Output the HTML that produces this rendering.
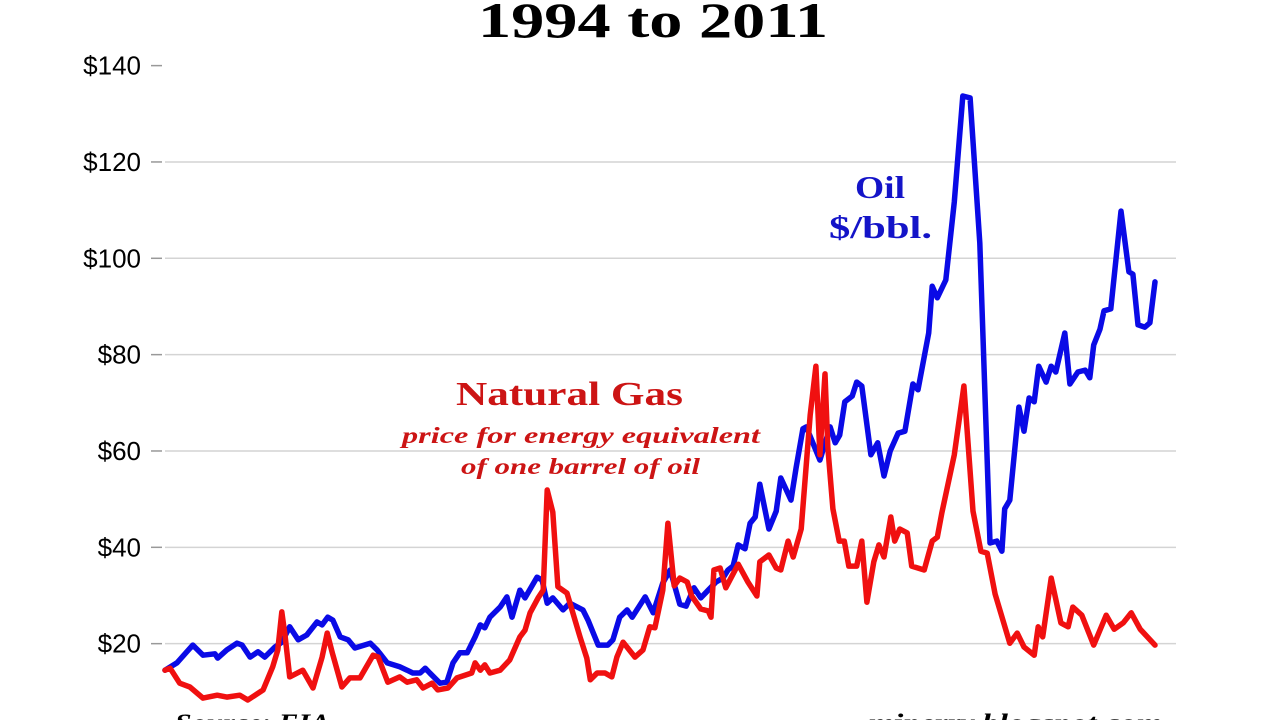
<!DOCTYPE html>
<html><head><meta charset="utf-8"><style>
html,body{margin:0;padding:0;background:#fff;}
svg{display:block;}
</style></head><body>
<svg id="chart" width="1280" height="720" viewBox="0 0 1280 720" xmlns="http://www.w3.org/2000/svg">
<rect width="1280" height="720" fill="#fff"/>
<text x="478" y="37" textLength="350" lengthAdjust="spacingAndGlyphs" font-family="Liberation Serif, serif" font-weight="bold" font-size="50">1994 to 2011</text>
<g id="grid"></g>
<g id="yaxis"></g>
<g id="series"></g>
<text x="855" y="198" textLength="50" lengthAdjust="spacingAndGlyphs" font-family="Liberation Serif, serif" font-weight="bold" font-size="32" fill="#1414c8">Oil</text>
<text x="829" y="238" textLength="103" lengthAdjust="spacingAndGlyphs" font-family="Liberation Serif, serif" font-weight="bold" font-size="32" fill="#1414c8">$/bbl.</text>
<text x="456" y="405" textLength="227" lengthAdjust="spacingAndGlyphs" font-family="Liberation Serif, serif" font-weight="bold" font-size="34" fill="#cc1414">Natural Gas</text>
<text x="402" y="443" textLength="358" lengthAdjust="spacingAndGlyphs" font-family="Liberation Serif, serif" font-style="italic" font-weight="bold" font-size="23" fill="#cc1414">price for energy equivalent</text>
<text x="461" y="474" textLength="239" lengthAdjust="spacingAndGlyphs" font-family="Liberation Serif, serif" font-style="italic" font-weight="bold" font-size="23" fill="#cc1414">of one barrel of oil</text>
<text x="175" y="731" textLength="155" lengthAdjust="spacingAndGlyphs" font-family="Liberation Serif, serif" font-style="italic" font-weight="bold" font-size="25">Source: EIA</text>
<text x="868" y="731" textLength="294" lengthAdjust="spacingAndGlyphs" font-family="Liberation Serif, serif" font-style="italic" font-weight="bold" font-size="25">mjperry.blogspot.com</text>
</svg>
<script>
const yTicks = [20, 40, 60, 80, 100, 120, 140];
const yTickLabels = ["$20", "$40", "$60", "$80", "$100", "$120", "$140"];
const oilYears = [1994.00,1994.21,1994.49,1994.67,1994.88,1994.93,1995.09,1995.27,1995.36,1995.50,1995.64,1995.76,1995.94,1996.06,1996.20,1996.35,1996.50,1996.68,1996.77,1996.87,1996.96,1997.09,1997.23,1997.35,1997.62,1997.74,1997.92,1998.14,1998.27,1998.37,1998.50,1998.59,1998.67,1998.85,1998.97,1999.08,1999.20,1999.33,1999.47,1999.56,1999.64,1999.73,1999.91,2000.03,2000.12,2000.26,2000.35,2000.56,2000.65,2000.74,2000.84,2001.02,2001.14,2001.37,2001.46,2001.64,2001.81,2001.90,2002.02,2002.15,2002.24,2002.47,2002.61,2002.78,2002.91,2003.08,2003.19,2003.33,2003.45,2003.58,2003.72,2003.84,2003.93,2004.02,2004.11,2004.23,2004.32,2004.41,2004.49,2004.65,2004.78,2004.86,2005.04,2005.13,2005.25,2005.31,2005.55,2005.73,2005.82,2005.90,2005.99,2006.12,2006.20,2006.29,2006.45,2006.57,2006.68,2006.79,2006.93,2007.05,2007.19,2007.28,2007.47,2007.53,2007.62,2007.77,2007.92,2008.07,2008.20,2008.37,2008.55,2008.67,2008.76,2008.81,2008.90,2009.06,2009.15,2009.24,2009.33,2009.41,2009.54,2009.63,2009.71,2009.87,2009.96,2010.10,2010.23,2010.31,2010.38,2010.49,2010.56,2010.68,2010.86,2011.00,2011.07,2011.16,2011.28,2011.37,2011.46];
const oilPrices = [14.5,16.0,19.7,17.6,17.9,17.0,18.7,20.1,19.7,17.2,18.3,17.2,19.3,20.3,23.5,20.8,21.8,24.5,23.9,25.5,24.9,21.4,20.8,19.1,20.1,18.7,16.0,15.2,14.5,13.9,13.9,14.9,13.9,11.8,12.0,16.0,18.1,18.1,21.4,23.9,23.3,25.5,27.6,29.7,25.5,31.1,29.5,33.8,33.2,28.4,29.5,27.0,28.4,27.0,24.9,19.7,19.7,20.8,25.5,27.0,25.5,29.7,26.4,32.6,35.3,28.2,27.8,31.6,29.5,31.1,32.8,33.6,35.3,36.1,40.5,39.7,45.0,46.3,53.1,43.8,47.5,54.4,49.8,56.5,64.6,65.0,58.1,65.0,61.7,63.3,70.2,71.4,74.3,73.5,59.2,61.7,54.8,60.0,63.7,64.1,73.9,72.7,84.5,94.2,91.8,95.5,111.7,133.7,133.3,103.2,40.9,41.3,39.2,48.0,49.8,69.1,64.1,71.0,70.2,77.6,74.3,77.6,76.4,84.5,73.9,76.4,76.8,75.2,82.0,85.3,89.1,89.5,109.8,97.2,96.7,86.2,85.7,86.6,95.1];
const gasYears = [1994.00,1994.09,1994.26,1994.44,1994.67,1994.92,1995.09,1995.32,1995.46,1995.73,1995.90,1995.99,1996.06,1996.12,1996.20,1996.43,1996.61,1996.77,1996.86,1996.95,1997.12,1997.26,1997.44,1997.67,1997.76,1997.93,1998.14,1998.27,1998.44,1998.55,1998.71,1998.81,1998.99,1999.15,1999.41,1999.47,1999.56,1999.64,1999.73,1999.91,2000.08,2000.26,2000.35,2000.44,2000.58,2000.67,2000.74,2000.84,2000.93,2001.09,2001.32,2001.44,2001.50,2001.62,2001.76,2001.88,2001.97,2002.08,2002.29,2002.43,2002.55,2002.64,2002.78,2002.87,2002.98,2003.08,2003.21,2003.29,2003.45,2003.58,2003.63,2003.68,2003.79,2003.89,2004.11,2004.28,2004.44,2004.49,2004.65,2004.78,2004.86,2004.99,2005.08,2005.22,2005.38,2005.48,2005.55,2005.64,2005.69,2005.78,2005.89,2005.98,2006.06,2006.20,2006.29,2006.38,2006.50,2006.59,2006.68,2006.80,2006.87,2006.96,2007.09,2007.17,2007.39,2007.53,2007.62,2007.70,2007.92,2008.09,2008.25,2008.39,2008.50,2008.64,2008.90,2009.03,2009.15,2009.33,2009.40,2009.48,2009.63,2009.80,2009.93,2010.01,2010.17,2010.38,2010.60,2010.74,2010.90,2011.04,2011.20,2011.46];
const gasPrices = [14.5,14.9,11.8,11.0,8.7,9.3,8.9,9.3,8.3,10.4,15.2,18.7,26.6,21.4,13.1,14.5,10.8,17.2,22.2,18.1,11.0,12.9,12.9,17.6,17.2,12.0,13.1,12.0,12.5,10.8,11.8,10.4,10.8,12.9,13.9,16.0,14.5,15.6,13.9,14.5,16.6,21.4,22.8,26.4,29.5,31.1,51.9,47.3,31.8,30.5,21.4,17.0,12.5,13.9,13.9,13.1,17.2,20.3,17.2,18.7,23.5,23.3,31.1,45.0,32.0,33.6,32.8,29.9,27.2,26.8,25.5,35.3,35.7,31.6,36.5,32.8,29.9,37.0,38.4,35.7,35.3,41.3,38.0,43.8,67.5,77.6,59.2,76.0,60.8,48.0,41.3,41.3,36.1,36.1,41.3,28.6,37.0,40.5,38.0,46.3,41.3,43.8,43.0,36.1,35.3,41.3,42.1,47.1,59.2,73.5,47.5,39.2,38.8,30.3,20.1,22.2,19.3,17.6,23.5,21.4,33.6,24.3,23.5,27.6,25.9,19.7,25.9,23.0,24.3,26.4,23.0,19.7];

const NS = "http://www.w3.org/2000/svg";
function xScale(yr){ return 165 + (yr - 1994) * 56.7; }
function yScale(v){ return 740 - v * 4.817; }

const grid = document.getElementById('grid');
const yaxis = document.getElementById('yaxis');
for (let i = 0; i < yTicks.length; i++) {
  const y = yScale(yTicks[i]);
  if (yTicks[i] < 140) {
    const g = document.createElementNS(NS, 'line');
    
    
    g.setAttribute('x1', 165); g.setAttribute('x2', 1176);
    g.setAttribute('y1', y); g.setAttribute('y2', y);
    g.setAttribute('stroke', '#d4d4d4'); g.setAttribute('stroke-width', '1.5');
    grid.appendChild(g);
  }
  const t = document.createElementNS(NS, 'line');
  
  
  t.setAttribute('x1', 151); t.setAttribute('x2', 162);
  t.setAttribute('y1', y); t.setAttribute('y2', y);
  t.setAttribute('stroke', '#999'); t.setAttribute('stroke-width', '1.5');
  yaxis.appendChild(t);
  const l = document.createElementNS(NS, 'text');
  
  
  l.setAttribute('x', 141); l.setAttribute('y', y + 9);
  l.setAttribute('text-anchor', 'end');
  l.setAttribute('font-family', 'Liberation Sans, sans-serif');
  l.setAttribute('font-size', '26');
  l.textContent = yTickLabels[i];
  yaxis.appendChild(l);
}

function drawLine(xs, vs, color, name) {
  const p = document.createElementNS(NS, 'polyline');
  
  
  p.setAttribute('points', xs.map((x, i) => xScale(x).toFixed(1) + ',' + yScale(vs[i]).toFixed(1)).join(' '));
  p.setAttribute('fill', 'none');
  p.setAttribute('stroke', color);
  p.setAttribute('stroke-width', '5.5');
  p.setAttribute('stroke-linejoin', 'round');
  p.setAttribute('stroke-linecap', 'round');
  document.getElementById('series').appendChild(p);
}
drawLine(oilYears, oilPrices, '#0a0ae6', 'oil-price-line');
drawLine(gasYears, gasPrices, '#f01010', 'natural-gas-price-line');
</script>
</body></html>
